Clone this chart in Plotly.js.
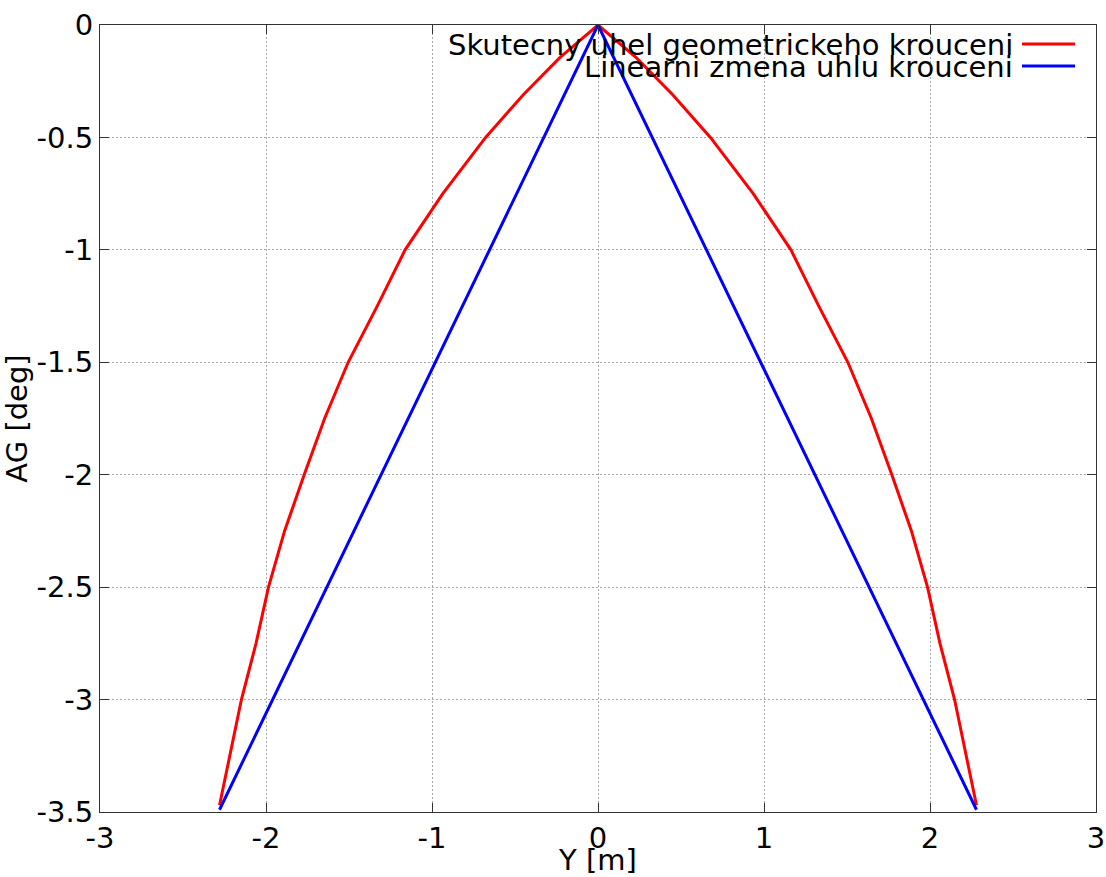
<!DOCTYPE html>
<html>
<head>
<meta charset="utf-8">
<script src="https://cdn.plot.ly/plotly-3.0.1.min.js"></script>
<style>html,body{margin:0;padding:0;background:#fff;}#chart{width:1106px;height:877px;}</style>
</head>
<body>
<div id="chart"></div>
<script>
// Data
const seriesNames = ['Skutecny uhel geometrickeho krouceni', 'Linearni zmena uhlu krouceni'];
const redY = [-2.28, -2.148, -2.06, -1.985, -1.888, -1.77, -1.647, -1.505, -1.33, -1.162, -0.935, -0.677, -0.45, -0.23, 0,
              0.23, 0.45, 0.677, 0.935, 1.162, 1.33, 1.505, 1.647, 1.77, 1.888, 1.985, 2.06, 2.148, 2.28];
const redAG = [-3.47, -3.0, -2.75, -2.5, -2.25, -2.0, -1.75, -1.5, -1.25, -1.0, -0.75, -0.5, -0.31, -0.145, 0,
               -0.145, -0.31, -0.5, -0.75, -1.0, -1.25, -1.5, -1.75, -2.0, -2.25, -2.5, -2.75, -3.0, -3.47];
const blueY = [-2.28, 0, 2.28];
const blueAG = [-3.49, 0, -3.49];
const xTickVals = [-3, -2, -1, 0, 1, 2, 3];
const xTickText = ['-3', '-2', '-1', '0', '1', '2', '3'];
const yTickVals = [0, -0.5, -1, -1.5, -2, -2.5, -3, -3.5];
const yTickText = ['0', '-0.5', '-1', '-1.5', '-2', '-2.5', '-3', '-3.5'];
const colors = ['#ff0000', '#0000ff'];

const FONT = 'DejaVu Sans, sans-serif';
const FS = 29;

const traces = [
  {x: redY, y: redAG, mode: 'lines', name: seriesNames[0], line: {color: colors[0], width: 3}, showlegend: false},
  {x: blueY, y: blueAG, mode: 'lines', name: seriesNames[1], line: {color: colors[1], width: 3}, showlegend: false}
];

const axisCommon = {
  showgrid: true, gridcolor: '#a8a8a8', gridwidth: 1, griddash: '2px,2px',
  zeroline: false, showline: true, linecolor: '#333', linewidth: 1, mirror: 'ticks',
  ticks: 'inside', ticklen: 9, tickcolor: '#333', tickwidth: 1,
  tickfont: {family: FONT, size: FS, color: '#000'}
};

const layout = {
  width: 1106, height: 877,
  margin: {l: 100, r: 10, t: 25, b: 65},
  paper_bgcolor: '#fff', plot_bgcolor: '#fff',
  font: {family: FONT, size: FS, color: '#000'},
  xaxis: Object.assign({}, axisCommon, {
    range: [-3, 3], tickmode: 'array', tickvals: xTickVals, ticktext: xTickText,
    title: {text: 'Y [m]', font: {family: FONT, size: FS}, standoff: 4}
  }),
  yaxis: Object.assign({}, axisCommon, {
    range: [-3.5, 0], tickmode: 'array', tickvals: yTickVals, ticktext: yTickText,
    title: {text: 'AG [deg]', font: {family: FONT, size: FS}, standoff: 4}
  }),
  showlegend: false,
  annotations: [
    {xref: 'paper', yref: 'paper', x: 0.9185, y: 0.9746, xanchor: 'right', yanchor: 'middle',
     text: seriesNames[0], showarrow: false, font: {family: FONT, size: FS, color: '#000'}},
    {xref: 'paper', yref: 'paper', x: 0.9185, y: 0.9466, xanchor: 'right', yanchor: 'middle',
     text: seriesNames[1], showarrow: false, font: {family: FONT, size: FS, color: '#000'}}
  ],
  shapes: [
    {type: 'line', xref: 'paper', yref: 'paper', x0: 0.9257, x1: 0.979, y0: 0.9759, y1: 0.9759,
     line: {color: colors[0], width: 3}},
    {type: 'line', xref: 'paper', yref: 'paper', x0: 0.9257, x1: 0.979, y0: 0.9479, y1: 0.9479,
     line: {color: colors[1], width: 3}}
  ]
};

Plotly.newPlot('chart', traces, layout, {displayModeBar: false, staticPlot: true});
</script>
</body>
</html>
